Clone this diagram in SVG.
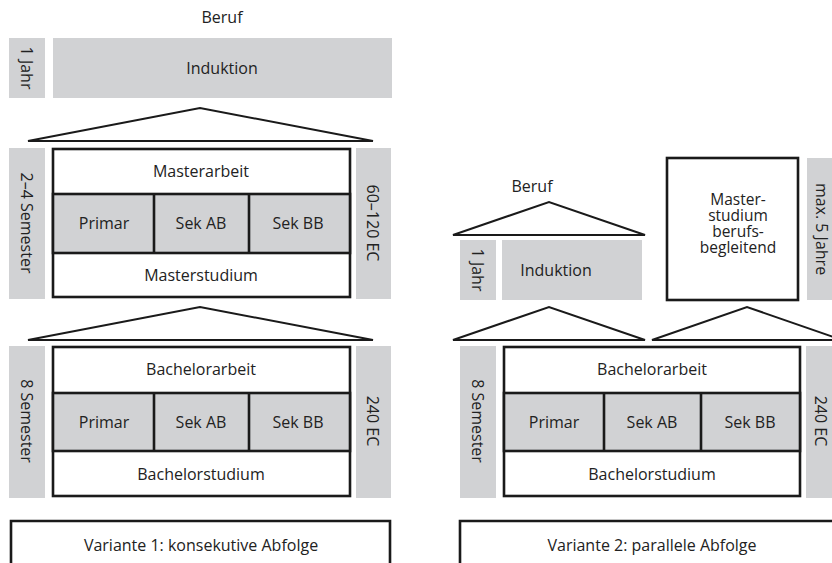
<svg xmlns="http://www.w3.org/2000/svg" width="832" height="563" viewBox="0 0 832 563">
<style>
text{font-family:"Open Sans","Noto Sans","Liberation Sans",sans-serif;font-size:16px;fill:#222;text-anchor:middle;dominant-baseline:central}
.sm{font-size:15.5px}
.g{fill:#d1d2d4}
.box{fill:#fff;stroke:#1a1a1a;stroke-width:2.6}
.cell{fill:#d1d2d4;stroke:#1a1a1a;stroke-width:2.6}
.roof{fill:#fff;stroke:#1a1a1a;stroke-width:2}
.ln{stroke:#1a1a1a;stroke-width:2.6;fill:none}
</style>
<rect width="832" height="563" fill="#fff"/>

<!-- Variante 1 -->
<g id="v1-beruf"><text x="222" y="17">Beruf</text></g>
<g id="v1-jahr"><rect class="g" x="9" y="38" width="36" height="60"/><text transform="translate(27,68) rotate(90)">1 Jahr</text></g>
<g id="v1-induktion"><rect class="g" x="53" y="38" width="339" height="60"/><text x="222" y="68">Induktion</text></g>

<g id="connectors">
<polygon class="roof" points="28,141 200,108 373,141"/>
<polygon class="roof" points="28,340 200,307 373,340"/>
<polygon class="roof" points="453,235 549,202 645,235"/>
<polygon class="roof" points="453,340 549,307 645,340"/>
<polygon class="roof" points="652,340 747,307 842,340"/>
</g>

<g id="v1-sem"><rect class="g" x="9" y="148" width="36" height="151"/><text transform="translate(27,223) rotate(90)">2–4 Semester</text></g>
<g id="v1-master">
<rect class="box" x="53" y="149" width="297" height="148"/>
<rect class="cell" x="53" y="194" width="297" height="59"/>
<line class="ln" x1="154" y1="194" x2="154" y2="253"/>
<line class="ln" x1="249" y1="194" x2="249" y2="253"/>
<text x="201" y="171">Masterarbeit</text>
<text x="104" y="223">Primar</text>
<text x="201" y="223">Sek AB</text>
<text x="298" y="223">Sek BB</text>
<text x="201" y="275">Masterstudium</text>
</g>
<g id="v1-ec"><rect class="g" x="356" y="148" width="35" height="151"/><text transform="translate(373,223) rotate(90)">60–120 EC</text></g>

<g id="v1-sem8"><rect class="g" x="9" y="346" width="36" height="152"/><text transform="translate(27,421) rotate(90)">8 Semester</text></g>
<g id="v1-bachelor">
<rect class="box" x="53" y="347" width="297" height="149"/>
<rect class="cell" x="53" y="393" width="297" height="58"/>
<line class="ln" x1="154" y1="393" x2="154" y2="451"/>
<line class="ln" x1="249" y1="393" x2="249" y2="451"/>
<text x="201" y="369">Bachelorarbeit</text>
<text x="104" y="422">Primar</text>
<text x="201" y="422">Sek AB</text>
<text x="298" y="422">Sek BB</text>
<text x="201" y="474">Bachelorstudium</text>
</g>
<g id="v1-ec240"><rect class="g" x="356" y="346" width="35" height="152"/><text transform="translate(373,421) rotate(90)">240 EC</text></g>

<g id="v1-label"><path class="ln" d="M11,570 V521 H390 V570" stroke-width="2.2"/><text x="201" y="545">Variante 1: konsekutive Abfolge</text></g>

<!-- Variante 2 -->
<g id="v2-beruf"><text x="532" y="186">Beruf</text></g>
<g id="v2-jahr"><rect class="g" x="460" y="240" width="36" height="60"/><text transform="translate(478,270) rotate(90)">1 Jahr</text></g>
<g id="v2-induktion"><rect class="g" x="502" y="240" width="140" height="60"/><text x="556" y="270">Induktion</text></g>
<g id="v2-master">
<rect class="box" x="667" y="158" width="131" height="142"/>
<text class="sm" x="738" y="199"><tspan x="738" y="199">Master-</tspan><tspan x="738" y="215">studium</tspan><tspan x="738" y="231">berufs-</tspan><tspan x="738" y="247">begleitend</tspan></text>
</g>
<g id="v2-jahre"><rect class="g" x="807" y="158" width="36" height="142"/><text transform="translate(822,229) rotate(90)">max. 5 Jahre</text></g>

<g id="v2-sem8"><rect class="g" x="460" y="346" width="36" height="152"/><text transform="translate(478,421) rotate(90)">8 Semester</text></g>
<g id="v2-bachelor">
<rect class="box" x="504" y="347" width="296" height="149"/>
<rect class="cell" x="504" y="393" width="296" height="58"/>
<line class="ln" x1="604" y1="393" x2="604" y2="451"/>
<line class="ln" x1="701" y1="393" x2="701" y2="451"/>
<text x="652" y="369">Bachelorarbeit</text>
<text x="554" y="422">Primar</text>
<text x="652" y="422">Sek AB</text>
<text x="750" y="422">Sek BB</text>
<text x="652" y="474">Bachelorstudium</text>
</g>
<g id="v2-ec240"><rect class="g" x="806" y="346" width="36" height="152"/><text transform="translate(821,421) rotate(90)">240 EC</text></g>

<g id="v2-label"><path class="ln" d="M460,570 V521 H842" stroke-width="2.2"/><text x="652" y="545">Variante 2: parallele Abfolge</text></g>
</svg>
